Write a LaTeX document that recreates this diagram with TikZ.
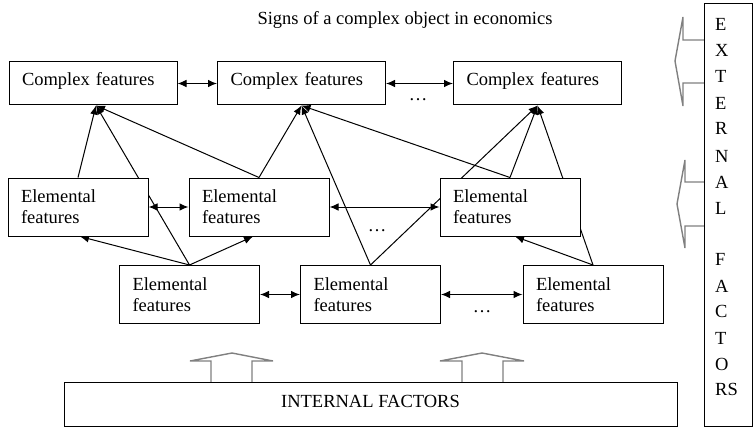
\documentclass[tikz,border=0pt]{standalone}
\usepackage{fontspec}
\setmainfont{Liberation Serif}
\usetikzlibrary{arrows.meta,backgrounds,calc}
\begin{document}
\begin{tikzpicture}[x=1pt,y=-1pt,
  every node/.style={font=\fontsize{18.5}{21}\selectfont},
  cbox/.style={draw,fill=white,line width=1pt,minimum height=43pt,inner xsep=13pt,text width=142pt,align=left,text height=10pt,text depth=7pt},
  ebox/.style={draw,fill=white,line width=1pt,minimum height=58pt,inner xsep=13pt,text width=114pt,align=left},
  conn/.style={line width=1pt},
  arr/.style={conn,-{Latex[length=9pt,width=7.5pt]}},
  darr/.style={conn,{Latex[length=9pt,width=7.5pt]}-{Latex[length=9pt,width=7.5pt]}},
  blockarrow/.style={draw=gray,fill=white,line width=1.4pt,line join=miter}
]
\useasboundingbox (0,0) rectangle (753,428);

\node[anchor=base] (title) at (405,25) {Signs of a complex object in economics};

% complex features
\node[cbox] (C1) at (93,83.5) {Complex features};
\node[cbox] (C2) at (301.5,83.5) {Complex features};
\node[cbox] (C3) at (537.5,83.5) {Complex features};

% elemental features, middle row
\node[ebox] (E1) at (78,207) {Elemental\\features};
\node[ebox] (E2) at (259,207) {Elemental\\features};
\node[ebox] (E3) at (510,207) {Elemental\\features};

% elemental features, bottom row
\node[ebox] (B1) at (189.5,294.5) {Elemental\\features};
\node[ebox] (B2) at (370.5,294.5) {Elemental\\features};
\node[ebox] (B3) at (593,294.5) {Elemental\\features};

% internal factors
\node[draw,fill=white,line width=1pt,minimum width=613pt,minimum height=44pt,text height=12pt,text depth=6pt] (IF) at (370.5,404) {INTERNAL FACTORS};

% external factors
\node[draw,fill=white,line width=1pt,minimum width=48pt,minimum height=423pt,anchor=north west] (EF) at (704,3) {};
\foreach \t/\y [count=\i] in {E/31,X/57,T/83,E/110,R/135,N/162,A/188,L/214,F/265,A/292,C/317,T/344,O/370,RS/395}
  \node[anchor=base west,inner sep=0pt] (ef\i) at (715,\y) {\t};

% dots
\node[anchor=base] (d1) at (418,100) {\ldots};
\node[anchor=base] (d2) at (377,231) {\ldots};
\node[anchor=base] (d3) at (482,312) {\ldots};

\coordinate (t1) at ($(C1.south)+(3,0)$);
\coordinate (t2) at (C2.south);
\coordinate (t3) at (C3.south);

\begin{scope}[on background layer]
  % into C1
  \draw[arr] (E1.north) -- (t1);
  \draw[arr] (B1.north) -- (t1);
  \draw[arr] (E2.north) -- (t1);
  % into C2
  \draw[arr] (E2.north) -- (t2);
  \draw[arr] (B2.north) -- (t2);
  \draw[arr] (E3.north) -- (t2);
  % into C3
  \draw[arr] (B2.north) -- (t3);
  \draw[arr] (E3.north) -- (t3);
  \draw[arr] (B3.north) -- (t3);
  % bottom to middle
  \draw[arr] (B1.north) -- ($(E1.south)+(2,0)$);
  \draw[arr] (B1.north) -- ($(E2.south)+(-6,0)$);
  \draw[arr] (B3.north) -- ($(E3.south)+(5,0)$);
  % block arrows up
  \draw[blockarrow] (211,382) -- (211,361) -- (190,361) -- (232,353) -- (273,361) -- (252,361) -- (252,382);
  \draw[blockarrow] (462,382) -- (462,361) -- (440,361) -- (482,353) -- (524,361) -- (503,361) -- (503,382);
  % block arrows left
  \draw[blockarrow] (705,40) -- (683,40) -- (683,17) -- (675,61) -- (683,106) -- (683,83) -- (705,83);
  \draw[blockarrow] (706,182) -- (685,182) -- (685,160) -- (677,204) -- (685,248) -- (685,226) -- (706,226);
\end{scope}

% horizontal links
\draw[darr] (C1.east) -- (C2.west);
\draw[darr] (C2.east) -- (C3.west);
\draw[darr] (E1.east) -- (E2.west);
\draw[darr] (E2.east) -- (E3.west);
\draw[darr] (B1.east) -- (B2.west);
\draw[darr] (B2.east) -- (B3.west);
\end{tikzpicture}
\end{document}
